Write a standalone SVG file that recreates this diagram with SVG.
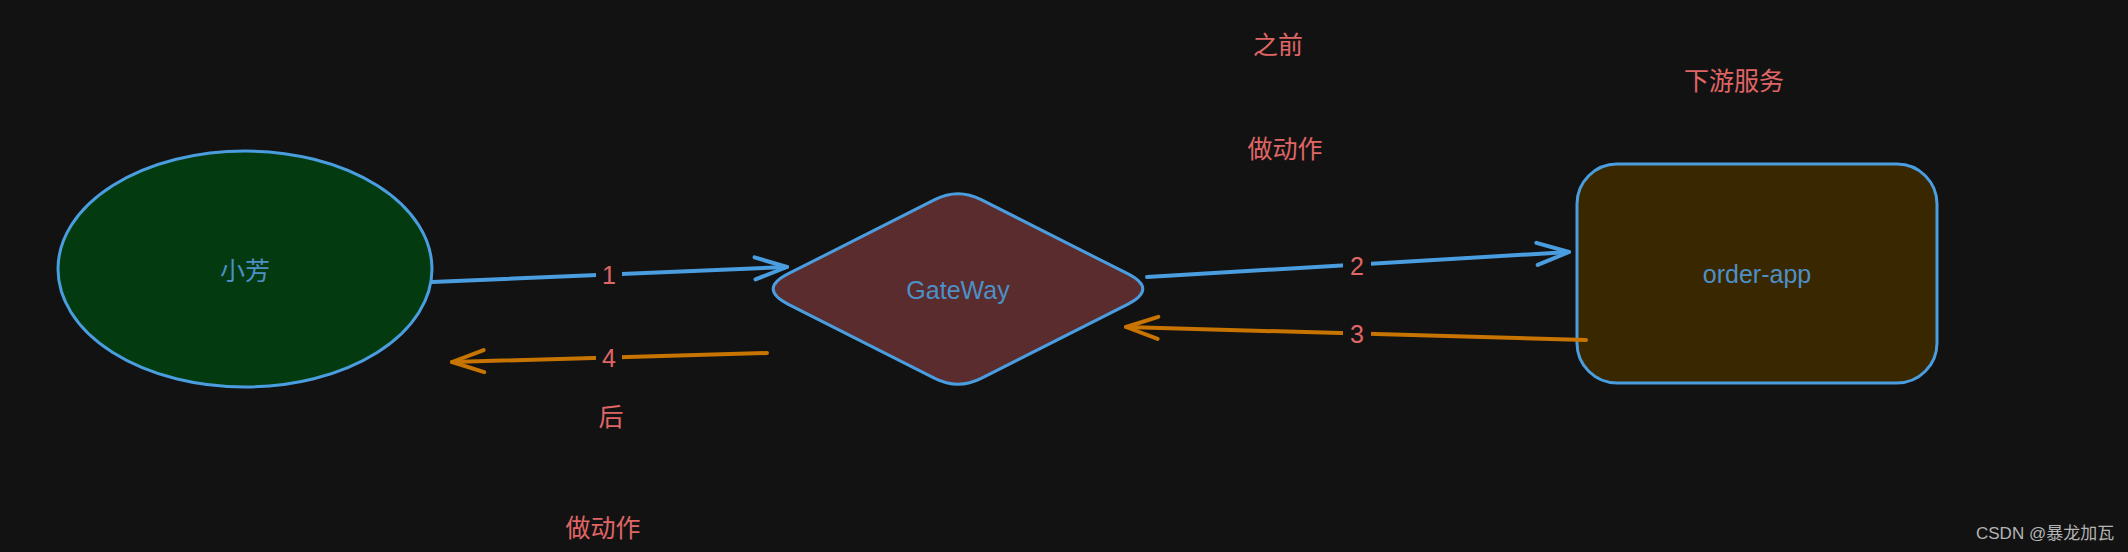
<svg xmlns="http://www.w3.org/2000/svg" width="2128" height="552" viewBox="0 0 2128 552">
<style>
.node-text{font-family:"Liberation Sans","Noto Sans CJK SC",sans-serif;font-size:25px;fill:#4d90c8;text-anchor:middle}
.lbl{font-family:"Liberation Sans","Noto Sans CJK SC",sans-serif;font-size:25px;fill:#e06666;text-anchor:middle}
.note{font-family:"Noto Sans CJK SC",sans-serif;font-size:25px;fill:#e06666;text-anchor:middle}
.blue{stroke:#4a9ee0;stroke-width:4;fill:none;stroke-linecap:round}
.orange{stroke:#c77400;stroke-width:4;fill:none;stroke-linecap:round}
.lblbg{fill:#121212}
.wm{font-family:"Liberation Sans","Noto Sans CJK SC",sans-serif;font-size:17px;fill:#b4b4b4}
</style>
<defs>
<marker id="arrBlue" markerUnits="userSpaceOnUse" markerWidth="44" markerHeight="32" viewBox="-38 -16 44 32" refX="0" refY="0" orient="auto">
<path d="M-32,-11 L0,0 L-32,11" fill="none" stroke="#4a9ee0" stroke-width="4" stroke-linecap="round" stroke-linejoin="round"/>
</marker>
<marker id="arrOrange" markerUnits="userSpaceOnUse" markerWidth="44" markerHeight="32" viewBox="-38 -16 44 32" refX="0" refY="0" orient="auto">
<path d="M-32,-11 L0,0 L-32,11" fill="none" stroke="#c77400" stroke-width="4" stroke-linecap="round" stroke-linejoin="round"/>
</marker>
</defs>
<rect x="0" y="0" width="2128" height="552" fill="#121212"/>

<g id="node-xiaofang">
<ellipse cx="245" cy="269" rx="187" ry="118" fill="#043a10" stroke="#4a9ee0" stroke-width="3"/>
<text class="node-text" x="245" y="271" dy="0.35em">小芳</text>
</g>

<g id="node-gateway">
<path d="M788.4,273.7 L934.8,199.7 Q958,188 981.2,199.7 L1127.6,273.7 Q1158,289 1127.6,304.3 L981.2,378.3 Q958,390 934.8,378.3 L788.4,304.3 Q758,289 788.4,273.7 Z" fill="#5a2c2d" stroke="#4a9ee0" stroke-width="3"/>
<text class="node-text" x="958" y="290" dy="0.35em">GateWay</text>
</g>

<g id="node-order-app">
<rect x="1577" y="164" width="360" height="219" rx="40" ry="40" fill="#392700" stroke="#4a9ee0" stroke-width="3"/>
<text class="node-text" x="1757" y="274" dy="0.35em">order-app</text>
</g>

<g id="connectors">
<line class="blue" x1="432" y1="282" x2="787" y2="267" marker-end="url(#arrBlue)"/>
<rect class="lblbg" x="596" y="259" width="26" height="32"/>
<text class="lbl" x="609" y="275" dy="0.35em">1</text>

<line class="orange" x1="767" y1="353" x2="452" y2="362" marker-end="url(#arrOrange)"/>
<rect class="lblbg" x="596" y="342" width="26" height="32"/>
<text class="lbl" x="609" y="358" dy="0.35em">4</text>

<line class="blue" x1="1147" y1="277" x2="1569" y2="252" marker-end="url(#arrBlue)"/>
<rect class="lblbg" x="1343" y="249" width="28" height="32"/>
<text class="lbl" x="1357" y="266" dy="0.35em">2</text>

<line class="orange" x1="1586" y1="340" x2="1126" y2="327" marker-end="url(#arrOrange)"/>
<rect class="lblbg" x="1343" y="318" width="28" height="32"/>
<text class="lbl" x="1357" y="334" dy="0.35em">3</text>
</g>

<g id="notes">
<text class="note" x="1278" y="45" dy="0.35em">之前</text>
<text class="note" x="1285" y="149" dy="0.35em">做动作</text>
<text class="note" x="1734" y="81" dy="0.35em">下游服务</text>
<text class="note" x="611" y="417" dy="0.35em">后</text>
<text class="note" x="603" y="528" dy="0.35em">做动作</text>
</g>

<text class="wm" x="1976" y="539">CSDN @暴龙加瓦</text>
</svg>
